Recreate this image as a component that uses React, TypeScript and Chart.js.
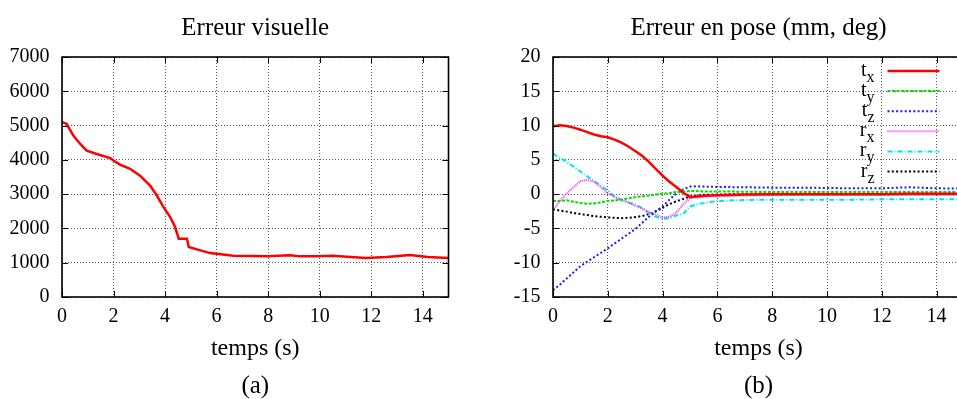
import React, { useEffect, useRef } from "react";
import { Chart, registerables } from "chart.js";

Chart.register(...registerables);

const FONT = "'Liberation Serif', 'Times New Roman', serif";

// ---------- tick labels ----------
const xTicks = [0, 2, 4, 6, 8, 10, 12, 14];
const yTicksA = [0, 1000, 2000, 3000, 4000, 5000, 6000, 7000];
const yTicksB = [-15, -10, -5, 0, 5, 10, 15, 20];

// ---------- (a) Erreur visuelle ----------
const timeA = [0, 0.18, 0.44, 0.7, 0.96, 1.35, 1.87, 2.0, 2.25, 2.64, 3.03, 3.42, 3.68, 3.94, 4.2, 4.39, 4.53, 4.85, 4.92, 5.37, 5.75, 6.0, 6.65, 7.95, 8.85, 9.24, 9.89, 10.5, 11.2, 11.8, 12.6, 13.5, 14.2, 15];
const visualError = [5100, 5050, 4710, 4470, 4270, 4170, 4050, 3980, 3860, 3740, 3540, 3250, 2960, 2620, 2330, 2040, 1700, 1700, 1460, 1360, 1280, 1260, 1205, 1185, 1215, 1185, 1185, 1205, 1170, 1140, 1165, 1225, 1165, 1140];

// ---------- (b) Erreur en pose ----------
const timeB = [0, 0.25, 0.5, 0.75, 1, 1.25, 1.5, 1.75, 2, 2.25, 2.5, 2.75, 3, 3.25, 3.5, 3.75, 4, 4.25, 4.5, 4.75, 5, 5.25, 5.5, 6, 7, 8, 9, 10, 11, 12, 13, 14, 15];
const tx = [9.9, 10.05, 9.95, 9.7, 9.4, 9.05, 8.7, 8.45, 8.3, 7.95, 7.5, 6.95, 6.3, 5.6, 4.7, 3.7, 2.7, 1.8, 1.05, 0.2, -0.4, -0.35, -0.25, -0.15, -0.05, 0, 0, 0, 0, 0, 0.05, 0.05, 0.05];
const ty = [-1.0, -1.0, -0.9, -1.1, -1.3, -1.4, -1.35, -1.2, -1.0, -0.9, -0.8, -0.6, -0.45, -0.3, -0.2, -0.05, 0.05, 0.15, 0.3, 0.4, 0.45, 0.45, 0.4, 0.4, 0.35, 0.3, 0.3, 0.3, 0.3, 0.3, 0.3, 0.3, 0.3];
const tz = [-14, -13.2, -12.3, -11.4, -10.5, -9.85, -9.2, -8.55, -7.9, -7.2, -6.5, -5.8, -5.1, -4.2, -3.3, -2.5, -1.8, -0.8, 0.1, 0.7, 1.1, 1.15, 1.1, 1.05, 1.0, 0.95, 0.95, 0.9, 0.85, 0.85, 1.0, 0.85, 0.8];
const rx = [-2.4, -1.0, 0.1, 1.0, 1.9, 2.1, 1.8, 1.0, 0.1, -0.4, -0.8, -1.2, -1.7, -2.1, -2.6, -3.0, -3.4, -3.3, -2.7, -1.5, -0.6, -0.45, -0.35, -0.3, -0.2, -0.15, -0.1, -0.1, -0.1, -0.1, -0.1, -0.1, -0.1];
const ry = [5.9, 5.3, 4.7, 4.0, 3.3, 2.6, 1.9, 1.2, 0.55, -0.4, -0.9, -1.2, -1.5, -2.0, -2.8, -3.3, -3.6, -3.5, -3.1, -2.9, -1.8, -1.5, -1.3, -1.0, -0.85, -0.8, -0.8, -0.8, -0.8, -0.75, -0.75, -0.75, -0.75];
const rz = [-2.2, -2.4, -2.55, -2.75, -2.9, -3.05, -3.2, -3.3, -3.4, -3.45, -3.5, -3.45, -3.35, -3.2, -2.9, -2.5, -2.0, -1.45, -1.05, -0.7, -0.35, -0.2, -0.1, -0.05, 0, 0, 0, 0, 0, 0, 0, 0, 0];

// styles (kept apart from the values)
const poseSeries = [
  { base: "t", sub: "x", values: tx, color: "#ff0000", dash: [] as number[], width: 2.5 },
  { base: "t", sub: "y", values: ty, color: "#00dd00", dash: [3, 1.5], width: 2 },
  { base: "t", sub: "z", values: tz, color: "#1a1aff", dash: [2, 2.3], width: 2 },
  { base: "r", sub: "x", values: rx, color: "#ff33ff", dash: [1, 1], width: 2 },
  { base: "r", sub: "y", values: ry, color: "#00e5e5", dash: [5, 2, 1, 2], width: 2 },
  { base: "r", sub: "z", values: rz, color: "#000000", dash: [2, 2.3], width: 2 },
];

function toPoints(xs: number[], ys: number[]) {
  return xs.map((x, i) => ({ x, y: ys[i] }));
}

function scalesFor(yT: number[], yMin: number, yMax: number, yWidth: number) {
  const tickFont = { family: FONT, size: 20 };
  const grid = { color: "#5a5a5a", lineWidth: 1, drawTicks: false };
  const border = { display: false, dash: [1, 2] };
  return {
    x: {
      type: "linear",
      min: 0,
      max: 15,
      afterBuildTicks: (s: any) => {
        s.ticks = xTicks.map((v) => ({ value: v }));
      },
      afterFit: (s: any) => {
        s.height = 102;
      },
      ticks: {
        callback: (v: any) => String(v),
        font: tickFont,
        color: "#000",
        padding: 8,
        maxRotation: 0,
        autoSkip: false,
      },
      grid,
      border,
    },
    y: {
      type: "linear",
      min: yMin,
      max: yMax,
      afterBuildTicks: (s: any) => {
        s.ticks = yT.map((v) => ({ value: v }));
      },
      afterFit: (s: any) => {
        s.width = yWidth;
      },
      ticks: {
        callback: (v: any) => String(v),
        font: tickFont,
        color: "#000",
        padding: 12.5,
        autoSkip: false,
      },
      grid,
      border,
    },
  };
}

function framePlugin(title: string, xlabel: string, tag: string, yT: number[]) {
  return {
    id: "frame",
    afterDatasetsDraw(chart: any) {
      const { ctx, chartArea: a, scales } = chart;
      ctx.save();
      ctx.setLineDash([]);
      ctx.strokeStyle = "#000";
      ctx.lineWidth = 1;
      const tl = 6;
      ctx.beginPath();
      xTicks.forEach((v) => {
        const px = Math.round(scales.x.getPixelForValue(v)) + 0.5;
        ctx.moveTo(px, a.bottom);
        ctx.lineTo(px, a.bottom - tl);
        ctx.moveTo(px, a.top);
        ctx.lineTo(px, a.top + tl);
      });
      yT.forEach((v) => {
        const py = Math.round(scales.y.getPixelForValue(v)) + 0.5;
        ctx.moveTo(a.left, py);
        ctx.lineTo(a.left + tl, py);
        ctx.moveTo(a.right, py);
        ctx.lineTo(a.right - tl, py);
      });
      ctx.stroke();
      ctx.lineWidth = 1.6;
      ctx.strokeRect(a.left, a.top, a.right - a.left, a.bottom - a.top);

      ctx.fillStyle = "#000";
      ctx.textAlign = "center";
      ctx.textBaseline = "alphabetic";
      const cx = (a.left + a.right) / 2;
      ctx.font = `25px ${FONT}`;
      ctx.fillText(title, cx, a.top - 22);
      ctx.font = `24px ${FONT}`;
      ctx.fillText(xlabel, cx, a.bottom + 58);
      ctx.font = `25px ${FONT}`;
      ctx.fillText(tag, cx, a.bottom + 96);
      ctx.restore();
    },
  };
}

const legendPlugin = {
  id: "subLegend",
  afterDatasetsDraw(chart: any) {
    const { ctx, chartArea: a } = chart;
    ctx.save();
    const lineEnd = a.right - 24.5;
    const lineStart = lineEnd - 52;
    const labelRight = lineStart - 13;
    poseSeries.forEach((s, i) => {
      const y = a.top + 14 + i * 20.1;
      ctx.strokeStyle = s.color;
      ctx.lineWidth = s.width;
      ctx.setLineDash(s.dash);
      ctx.beginPath();
      ctx.moveTo(lineStart, y);
      ctx.lineTo(lineEnd, y);
      ctx.stroke();
      ctx.setLineDash([]);
      ctx.fillStyle = "#000";
      ctx.textAlign = "right";
      ctx.textBaseline = "alphabetic";
      ctx.font = `16px ${FONT}`;
      const subW = ctx.measureText(s.sub).width;
      ctx.fillText(s.sub, labelRight, y + 11);
      ctx.font = `20px ${FONT}`;
      ctx.fillText(s.base, labelRight - subW, y + 5);
    });
    ctx.restore();
  },
};

function makeLeft(): any {
  return {
    type: "line",
    data: {
      datasets: [
        {
          label: "Erreur visuelle",
          data: toPoints(timeA, visualError),
          borderColor: "#ff0000",
          borderWidth: 2.5,
          pointRadius: 0,
          tension: 0,
          fill: false,
        },
      ],
    },
    options: {
      responsive: false,
      animation: false,
      devicePixelRatio: 1,
      layout: { padding: { left: 0, right: 29.5, top: 57, bottom: 0 } },
      scales: scalesFor(yTicksA, 0, 7000, 62),
      plugins: { legend: { display: false }, tooltip: { enabled: false }, title: { display: false } },
    },
    plugins: [framePlugin("Erreur visuelle", "temps (s)", "(a)", yTicksA)],
  };
}

function makeRight(): any {
  return {
    type: "line",
    data: {
      datasets: poseSeries.map((s) => ({
        label: s.base + s.sub,
        data: toPoints(timeB, s.values),
        borderColor: s.color,
        borderWidth: s.width,
        borderDash: s.dash,
        pointRadius: 0,
        tension: 0,
        fill: false,
      })),
    },
    options: {
      responsive: false,
      animation: false,
      devicePixelRatio: 1,
      layout: { padding: { left: 0, right: 30, top: 57, bottom: 0 } },
      scales: scalesFor(yTicksB, -15, 20, 75),
      plugins: { legend: { display: false }, tooltip: { enabled: false }, title: { display: false } },
    },
    plugins: [framePlugin("Erreur en pose (mm, deg)", "temps (s)", "(b)", yTicksB), legendPlugin],
  };
}

export default function App() {
  const leftRef = useRef<HTMLCanvasElement>(null);
  const rightRef = useRef<HTMLCanvasElement>(null);
  useEffect(() => {
    const c1 = new Chart(leftRef.current as HTMLCanvasElement, makeLeft());
    const c2 = new Chart(rightRef.current as HTMLCanvasElement, makeRight());
    return () => {
      c1.destroy();
      c2.destroy();
    };
  }, []);
  return (
    <div
      style={{
        position: "fixed",
        left: 0,
        top: 0,
        width: 957,
        height: 399,
        overflow: "hidden",
        background: "#fff",
      }}
    >
      <canvas ref={leftRef} width={478} height={399} style={{ position: "absolute", left: 0, top: 0 }} />
      <canvas ref={rightRef} width={516} height={399} style={{ position: "absolute", left: 478, top: 0 }} />
    </div>
  );
}
